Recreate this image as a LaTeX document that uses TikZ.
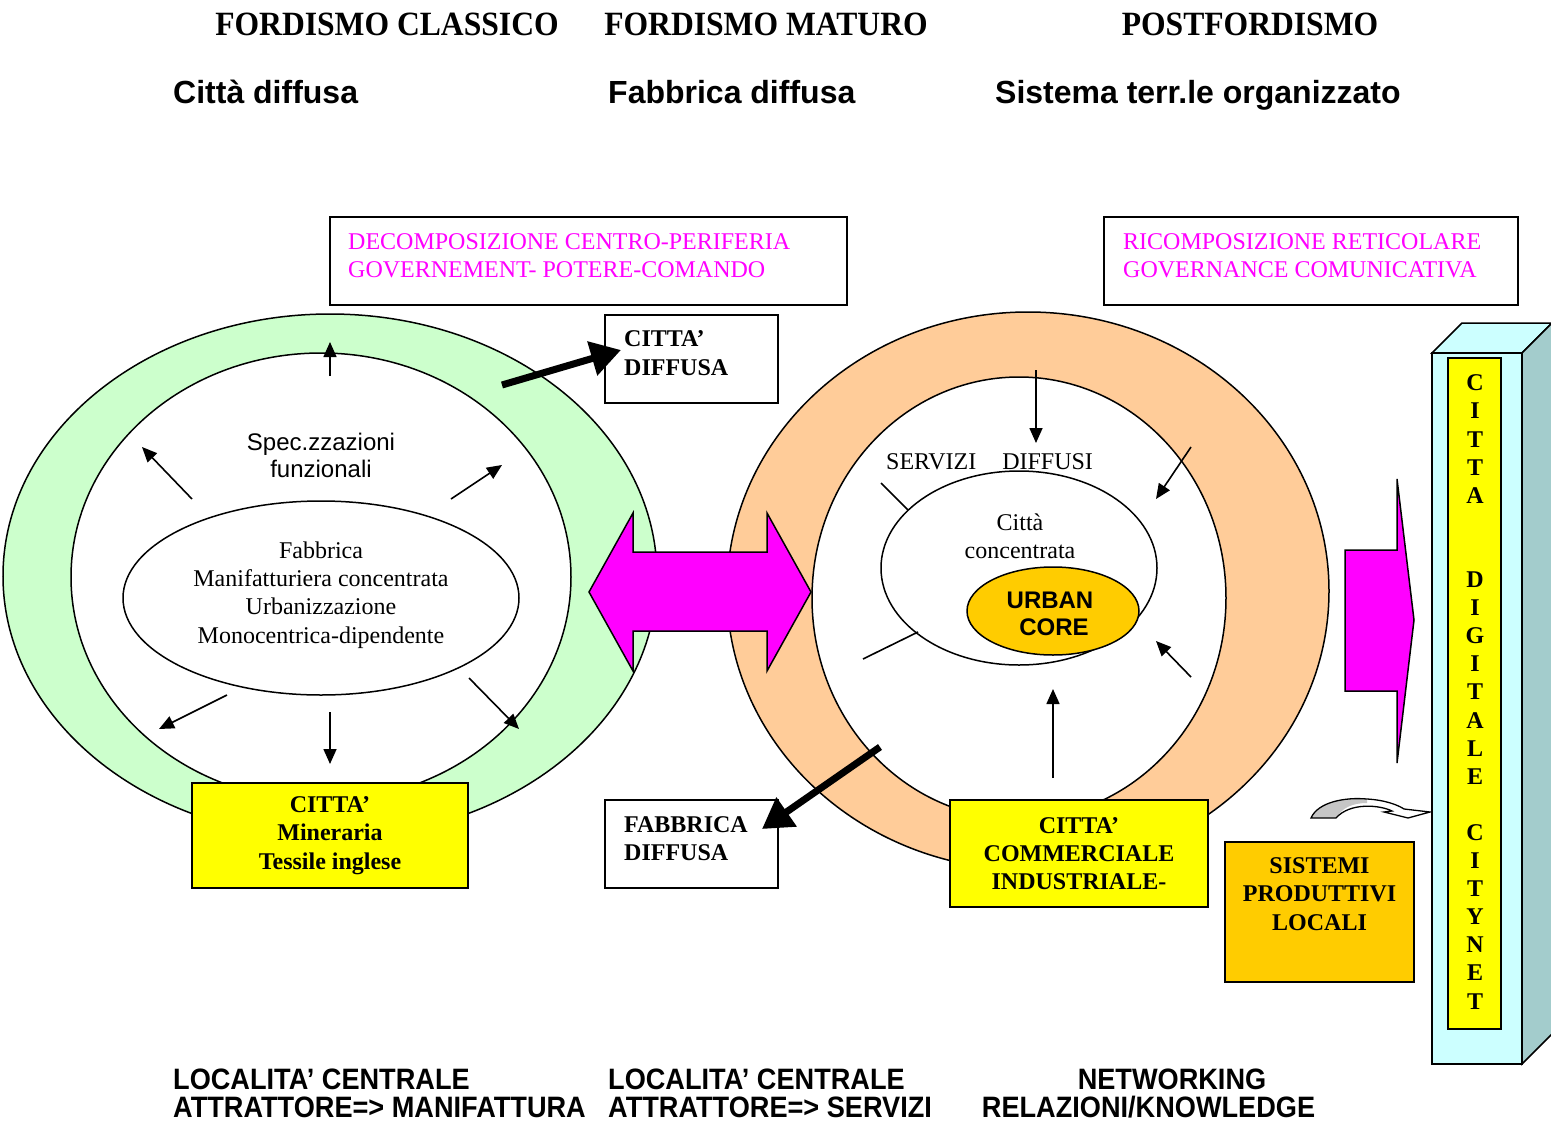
\documentclass[tikz,border=0pt]{standalone}
\usepackage{fontspec}
\setmainfont{Liberation Serif}
\setsansfont{Liberation Sans}
\newfontfamily\condsans[FakeStretch=0.92]{Liberation Sans}
\newfontfamily\condserif[FakeStretch=0.93]{Liberation Serif}
\usetikzlibrary{arrows.meta,shapes.geometric}
\definecolor{ringgreen}{HTML}{CCFFCC}
\definecolor{ringorange}{HTML}{FFCC99}
\definecolor{mag}{HTML}{FF00FF}
\definecolor{yel}{HTML}{FFFF00}
\definecolor{gold}{HTML}{FFCC00}
\definecolor{cyanface}{HTML}{CCFFFF}
\definecolor{tealface}{HTML}{A3CCCC}
\newcommand\mysz[2]{\fontsize{#1}{#2}\selectfont}
\begin{document}
\begin{tikzpicture}[x=1pt,y=-1pt,
  outl/.style={draw=black,line width=1.5pt},
  plainbox/.style={outl,rectangle,fill=white,inner sep=0pt},
  ellnode/.style={outl,ellipse,inner sep=0pt},
  thinarrow/.style={line width=1.6pt,-{Triangle[length=15pt,width=13pt]}},
  thinline/.style={line width=1.6pt},
  thickarrow/.style={line width=7pt,-{Triangle[length=30pt,width=34pt]}},
  titlefont/.style={font=\condserif\bfseries\mysz{34}{40}},
  subfont/.style={font=\sffamily\bfseries\mysz{32}{38}},
  botfont/.style={font=\condsans\bfseries\mysz{29.5}{29.5}},
  serifbox/.style={font=\bfseries\mysz{24}{28.3},align=center,inner sep=0pt},
  magtext/.style={font=\mysz{24}{28},text=mag,align=left,inner sep=0pt},
  plaintext/.style={font=\mysz{24}{28.3},align=center,inner sep=0pt},
  letter/.style={font=\bfseries\mysz{24}{24},inner sep=0pt}
]
\useasboundingbox (0,0) rectangle (1551,1122);

% ---- titles ----
\node[titlefont,anchor=base] (t1) at (387,35.5) {FORDISMO CLASSICO};
\node[titlefont,anchor=base] (t2) at (766,35.5) {FORDISMO MATURO};
\node[titlefont,anchor=base] (t3) at (1250,35.5) {POSTFORDISMO};
\node[subfont,anchor=base west,inner sep=0pt] (s1) at (173,103) {Città diffusa};
\node[subfont,anchor=base west,inner sep=0pt] (s2) at (608,103) {Fabbrica diffusa};
\node[subfont,anchor=base west,inner sep=0pt] (s3) at (995,103) {Sistema terr.le organizzato};

% ---- top boxes ----
\node[plainbox,minimum width=517,minimum height=88] (decomp) at (588.5,261) {};
\node[magtext,anchor=west] (decomptxt) at (348,256) {DECOMPOSIZIONE CENTRO-PERIFERIA\\GOVERNEMENT- POTERE-COMANDO};
\node[plainbox,minimum width=414,minimum height=88] (ricomp) at (1311,261) {};
\node[magtext,anchor=west] (ricomptxt) at (1123,256) {RICOMPOSIZIONE RETICOLARE\\GOVERNANCE COMUNICATIVA};

% ---- left ring ----
\filldraw[fill=ringgreen,line width=1.5pt] (330,576) ellipse [x radius=327,y radius=262];
\filldraw[fill=white,line width=1.5pt] (321,577) ellipse [x radius=250,y radius=224];
\node[ellnode,minimum width=396,minimum height=194] (fabbrica) at (321,598) {};
\node[plaintext] (fabtxt) at (321,595) {Fabbrica\\Manifatturiera concentrata\\Urbanizzazione\\Monocentrica-dipendente};
\node[plaintext,font=\sffamily\mysz{24}{27}] (spec) at (321,455) {Spec.zzazioni\\funzionali};

% ---- right ring ----
\filldraw[fill=ringorange,line width=1.5pt] (1028,591) ellipse [x radius=301,y radius=279];
\filldraw[fill=white,line width=1.5pt] (1019,598) ellipse [x radius=207,y radius=221];
\node[ellnode,minimum width=276,minimum height=194] (concentrata) at (1019,568) {};
\node[ellnode,fill=gold,minimum width=172,minimum height=88] (core) at (1053,611) {};
\node[plaintext,font=\sffamily\bfseries\mysz{24}{27.5}] (coretxt) at (1050,614) {URBAN\\\hspace*{8pt}CORE};
\node[plaintext] (cittatxt) at (1020,536) {Città\\concentrata};
\node[plaintext,anchor=west] (servizi) at (886,462) {SERVIZI\hspace{26pt}DIFFUSI};

% ---- arrows in left ring ----
\coordinate (la1) at (330,376); \coordinate (lb1) at (330,342);
\coordinate (la2) at (192,499); \coordinate (lb2) at (142,447);
\coordinate (la3) at (451,499); \coordinate (lb3) at (502,465);
\coordinate (la4) at (227,695); \coordinate (lb4) at (159,729);
\coordinate (la5) at (330,712); \coordinate (lb5) at (330,764);
\coordinate (la6) at (469,678); \coordinate (lb6) at (519,729);
\foreach \i in {1,...,6} {\draw[thinarrow] (la\i) -- (lb\i);}

% ---- arrows in right ring ----
\coordinate (ra1) at (1036,370); \coordinate (rb1) at (1036,443);
\coordinate (ra2) at (1191,447); \coordinate (rb2) at (1156,499);
\coordinate (ra3) at (1191,677); \coordinate (rb3) at (1156,641);
\coordinate (ra4) at (1053,778); \coordinate (rb4) at (1053,689);
\foreach \i in {1,...,4} {\draw[thinarrow] (ra\i) -- (rb\i);}
\coordinate (rl1) at (881,483); \coordinate (rm1) at (908,510);
\coordinate (rl2) at (863,659); \coordinate (rm2) at (918,632);
\draw[thinline] (rl1) -- (rm1);
\draw[thinline] (rl2) -- (rm2);

% ---- double magenta arrow ----
\filldraw[fill=mag,line width=1.5pt,line join=miter] (589,592) -- (633,513) -- (633,552) -- (767,552) -- (767,513) -- (811,592) -- (767,671) -- (767,631) -- (633,631) -- (633,671) -- cycle;

% ---- side boxes ----
\node[plainbox,minimum width=173,minimum height=88] (cdiffusa) at (691.5,359) {};
\node[serifbox,align=left,anchor=west] (cdtxt) at (624,353) {CITTA’\\DIFFUSA};
\node[plainbox,minimum width=173,minimum height=88] (fdiffusa) at (691.5,844) {};
\node[serifbox,align=left,anchor=west] (fdtxt) at (624,839) {FABBRICA\\DIFFUSA};

\coordinate (ta1) at (502,385);
\coordinate (tb1) at (621,350);
\draw[thickarrow] (ta1) -- (tb1);
\coordinate (ta2) at (880,747);
\coordinate (tb2) at (762,829);
\draw[thickarrow] (ta2) -- (tb2);

% ---- yellow boxes ----
\node[outl,fill=yel,minimum width=276,minimum height=105,serifbox] (mineraria) at (330,835.5) {CITTA’\\Mineraria\\Tessile inglese};
\node[outl,fill=yel,minimum width=258,minimum height=107,serifbox] (commerciale) at (1079,853.5) {CITTA’\\COMMERCIALE\\INDUSTRIALE-};
\node[outl,fill=gold,minimum width=189,minimum height=140,inner sep=0pt] (sistemi) at (1319.5,912) {};
\node[serifbox] (sistemitxt) at (1319.5,894) {SISTEMI\\PRODUTTIVI\\LOCALI};

% ---- right magenta arrow ----
\filldraw[fill=mag,line width=1.5pt,line join=miter] (1345,550) -- (1397,550) -- (1397,479) -- (1414,620) -- (1397,763) -- (1397,691) -- (1345,691) -- cycle;

% ---- curved arrow ----
\fill[white] (1311,818) .. controls (1318,802) and (1345,797) .. (1367,799) .. controls (1385,800) and (1398,805) .. (1404,809) -- (1430,812) -- (1408,818) -- (1384,812) -- (1392,811) .. controls (1380,805) and (1350,802) .. (1336,818) -- cycle;
\fill[gray!45] (1311,818) .. controls (1318,802) and (1345,797) .. (1367,799) -- (1367,803) .. controls (1352,803) and (1342,808) .. (1336,818) -- cycle;
\draw[line width=1.3pt,line join=miter] (1311,818) .. controls (1318,802) and (1345,797) .. (1367,799) .. controls (1385,800) and (1398,805) .. (1404,809) -- (1430,812) -- (1408,818) -- (1384,812) -- (1392,811) .. controls (1380,805) and (1350,802) .. (1336,818) -- cycle;

% ---- 3D column ----
\filldraw[fill=cyanface,line width=1.5pt,line join=miter] (1432,353) -- (1462,323) -- (1552,323) -- (1522,353) -- cycle;
\filldraw[fill=tealface,line width=1.5pt,line join=miter] (1522,353) -- (1552,323) -- (1552,1034) -- (1522,1064) -- cycle;
\node[outl,fill=cyanface,minimum width=90,minimum height=711,inner sep=0pt] (column) at (1477,708.5) {};
\node[outl,fill=yel,minimum width=53,minimum height=671,inner sep=0pt] (strip) at (1474.5,693.5) {};
\foreach \l/\k in {C/0,I/1,T/2,T/3,A/4,D/7,I/8,G/9,I/10,T/11,A/12,L/13,E/14,C/16,I/17,T/18,Y/19,N/20,E/21,T/22}
  {\node[letter] (let\k) at (1475,383+\k*28.1) {\l};}

% ---- bottom texts ----
\node[botfont,anchor=base west,inner sep=0pt] (b1) at (173,1089.5) {LOCALITA’ CENTRALE};
\node[botfont,anchor=base west,inner sep=0pt] (b2) at (173,1117.5) {ATTRATTORE=> MANIFATTURA};
\node[botfont,anchor=base west,inner sep=0pt] (b3) at (608,1089.5) {LOCALITA’ CENTRALE};
\node[botfont,anchor=base west,inner sep=0pt] (b4) at (608,1117.5) {ATTRATTORE=> SERVIZI};
\node[botfont,anchor=base,inner sep=0pt] (b5) at (1172,1089.5) {NETWORKING};
\node[botfont,anchor=base,inner sep=0pt] (b6) at (1148.5,1117.5) {RELAZIONI/KNOWLEDGE};
\end{tikzpicture}
\end{document}
